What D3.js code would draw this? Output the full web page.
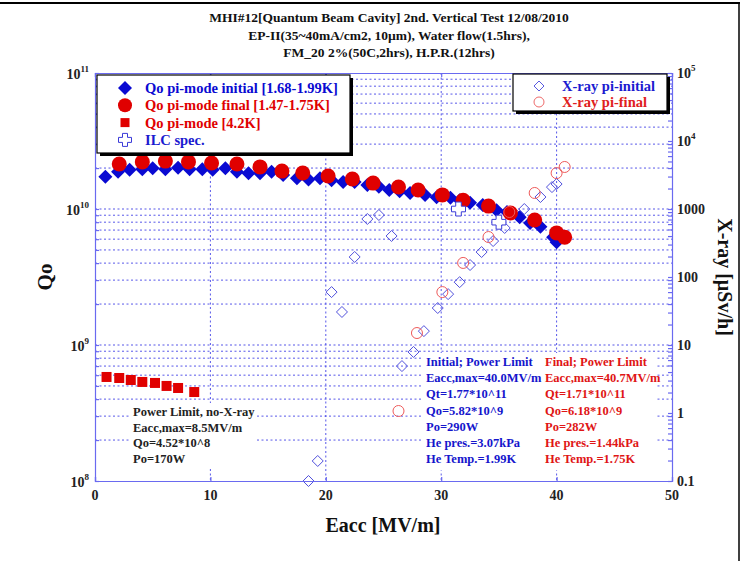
<!DOCTYPE html>
<html><head><meta charset="utf-8">
<script src="https://cdn.jsdelivr.net/npm/d3@7"></script>
<style>body{margin:0;background:#fff}svg{display:block}text{font-family:"Liberation Serif","Times New Roman",serif;font-weight:bold}</style>
</head><body>
<svg id="c" width="745" height="561"></svg>
<script>
// ---- data ----
const titleLines = ["MHI#12[Quantum Beam Cavity] 2nd. Vertical Test 12/08/2010",
  "EP-II(35~40mA/cm2, 10\u00b5m), Water flow(1.5hrs),",
  "FM_20 2%(50C,2hrs), H.P.R.(12hrs)"];
const initE = [0.9,2.0,3.0,4.1,5.0,6.1,7.2,8.2,9.3,10.2,11.3,12.3,13.3,14.3,15.3,16.3,17.5,18.5,19.5,20.5,21.5,22.5,23.6,24.6,25.5,26.4,27.3,28.6,29.6,30.8,31.6,32.5,33.6,34.8,35.7,36.8,37.7,38.6,39.7,40.0];
const initQ = [1.73e10,1.88e10,1.94e10,1.96e10,1.99e10,1.96e10,2.01e10,1.96e10,1.96e10,1.94e10,1.99e10,1.88e10,1.83e10,1.83e10,1.88e10,1.78e10,1.68e10,1.65e10,1.68e10,1.63e10,1.58e10,1.58e10,1.50e10,1.46e10,1.38e10,1.35e10,1.31e10,1.27e10,1.22e10,1.21e10,1.16e10,1.11e10,1.07e10,9.8e9,9.5e9,8.7e9,7.9e9,7.4e9,6.2e9,5.7e9];
const finE = [2.1,4.1,6.1,8.1,10.1,12.3,14.3,16.2,18.0,20.2,22.3,24.1,26.3,28.0,30.1,31.9,34.1,36.0,38.1,40.0,40.7];
const finQ = [2.14e10,2.22e10,2.25e10,2.22e10,2.18e10,2.14e10,2.04e10,1.90e10,1.84e10,1.75e10,1.66e10,1.55e10,1.45e10,1.38e10,1.27e10,1.16e10,1.05e10,9.35e9,8.3e9,6.67e9,6.2e9];
const k42E = [1.0,2.1,3.1,4.1,5.2,6.2,7.2,8.6];
const k42Q = [5.82e8,5.72e8,5.53e8,5.35e8,5.26e8,5.0e8,4.83e8,4.51e8];
const ilcE = [31.5,35.0];
const ilcQ = [1.0e10,8.0e9];
const xrInitE = [18.5,19.3,20.5,21.4,22.5,23.6,24.6,25.7,26.6,27.6,28.5,29.7,30.6,31.6,32.5,33.5,34.5,35.5,36.6,37.2,38.6,39.6,40.0];
const xrInitV = [0.1,0.197,60,30.6,197,713,816,401,4.9,7.9,16,35,56,84,150,233,338,526,789,1000,1500,2100,2330];
const xrFinE = [26.3,27.9,30.1,31.9,34.1,35.9,38.1,40.0,40.7];
const xrFinV = [1.07,15,60,161,387,903,1720,3370,4150];
const xTicks = [0,10,20,30,40,50];
const leftTicks = [[1e8,"10","8"],[1e9,"10","9"],[1e10,"10","10"],[1e11,"10","11"]];
const rightTicks = [[1e5,"10","5"],[1e4,"10","4"],[1000,"1000",""],[100,"100",""],[10,"10",""],[1,"1",""],[0.1,"0.1",""]];
const legend1 = [["diamond","Qo pi-mode initial [1.68-1.99K]","#0a0ad2"],["circle","Qo pi-mode final [1.47-1.75K]","#e00000"],["square","Qo pi-mode [4.2K]","#e00000"],["plus","ILC spec.","#1a1ad0"]];
const legend2 = [["odiamond","X-ray pi-initial","#1a1ad0"],["ocircle","X-ray pi-final","#e02020"]];
const noteK = ["Power Limit, no-X-ray","Eacc,max=8.5MV/m","Qo=4.52*10^8","Po=170W"];
const noteInit = ["Initial; Power Limit","Eacc,max=40.0MV/m","Qt=1.77*10^11","Qo=5.82*10^9","Po=290W","He pres.=3.07kPa","He Temp.=1.99K"];
const noteFin = ["Final; Power Limit","Eacc,max=40.7MV/m","Qt=1.71*10^11","Qo=6.18*10^9","Po=282W","He pres.=1.44kPa","He Temp.=1.75K"];

// ---- chart ----
const svg = d3.select("#c");
const L=95,R=672,T=73,B=481;
const x = d3.scaleLinear([0,50],[L,R]);
const yL = d3.scaleLog([1e8,1e11],[B,T]);
const yR = d3.scaleLog([0.1,1e5],[B,T]);
const BLUE="#0a0ad2", RED="#e00000", AX="#6a6af0";

// frame lines of the slide
svg.append("line").attr("x1",0).attr("x2",740).attr("y1",3).attr("y2",3).attr("stroke","#000").attr("stroke-width",2);
svg.append("line").attr("x1",739).attr("x2",739).attr("y1",2).attr("y2",561).attr("stroke","#000").attr("stroke-width",1.5);

// title
svg.append("g").selectAll("text").data(titleLines).join("text")
  .attr("x",389).attr("y",(d,i)=>22+i*17.5).attr("text-anchor","middle")
  .attr("font-size",13.5).attr("fill","#111").text(d=>d);

// grid
const minor=[];
for(let e=8;e<=10;e++) for(let m=1;m<=9;m++){const v=m*Math.pow(10,e); if(v>1e8&&v<1e11) minor.push(v);}
const g = svg.append("g");
g.selectAll("line.h").data(minor).join("line").attr("class","h")
  .attr("x1",L).attr("x2",R).attr("y1",d=>yL(d)).attr("y2",d=>yL(d))
  .attr("stroke","#3b3be6").attr("stroke-width",1).attr("stroke-dasharray","2,2.5").attr("opacity",0.85);
g.selectAll("line.v").data([10,20,30,40]).join("line").attr("class","v")
  .attr("x1",d=>x(d)).attr("x2",d=>x(d)).attr("y1",T).attr("y2",B)
  .attr("stroke","#3b3be6").attr("stroke-width",1).attr("stroke-dasharray","2,2.5").attr("opacity",0.85);

// text blocks
function block(lines,x0,y0,dy,color,w,fs){
  const bb = svg.append("g");
  bb.append("rect").attr("x",x0-3).attr("y",y0-13).attr("width",w).attr("height",dy*lines.length+4).attr("fill","#fff");
  bb.selectAll("text").data(lines).join("text").attr("x",x0).attr("y",(d,i)=>y0+i*dy)
    .attr("font-size",fs).attr("fill",color).text(d=>d);
}
block(noteK,133,416,15.5,"#222",127,12.5);
block(noteInit,426,366,16.2,"#1515cc",121,12.5);
block(noteFin,545,366,16.2,"#e01515",114,12.5);

// markers
function diamond(s){return `M0,${-s}L${s},0L0,${s}L${-s},0Z`;}
function plusPath(a,b){return `M${-b},${-a}H${b}V${-b}H${a}V${b}H${b}V${a}H${-b}V${b}H${-a}V${-b}H${-b}Z`;}
const mk = svg.append("g");
mk.selectAll("path.xi").data(xrInitE).join("path").attr("class","xi")
  .attr("transform",(d,i)=>`translate(${x(d)},${yR(xrInitV[i])})`).attr("d",diamond(5.5))
  .attr("fill","none").attr("stroke","#5050dc").attr("stroke-width",1);
mk.selectAll("path.ii").data(initE).join("path").attr("class","ii")
  .attr("transform",(d,i)=>`translate(${x(d)},${yL(initQ[i])})`).attr("d",diamond(7))
  .attr("fill",BLUE);
mk.selectAll("circle.ff").data(finE).join("circle").attr("class","ff")
  .attr("cx",d=>x(d)).attr("cy",(d,i)=>yL(finQ[i])).attr("r",7.5).attr("fill",RED);
mk.selectAll("rect.kk").data(k42E).join("rect").attr("class","kk")
  .attr("x",d=>x(d)-5).attr("y",(d,i)=>yL(k42Q[i])-5).attr("width",10).attr("height",10).attr("fill",RED);
mk.selectAll("circle.xf").data(xrFinE).join("circle").attr("class","xf")
  .attr("cx",d=>x(d)).attr("cy",(d,i)=>yR(xrFinV[i])).attr("r",5.5)
  .attr("fill","none").attr("stroke","#ee5a5a").attr("stroke-width",1);
mk.selectAll("path.ilc").data(ilcE).join("path").attr("class","ilc")
  .attr("transform",(d,i)=>`translate(${x(d)},${yL(ilcQ[i])})`).attr("d",plusPath(7,2.8))
  .attr("fill","#fff").attr("stroke","#3a3ad8").attr("stroke-width",1);

// axes
const lt=[]; for(let e=8;e<=10;e++) for(let m=1;m<=9;m++) lt.push(m*Math.pow(10,e)); lt.push(1e11);
const axL = svg.append("g").attr("transform",`translate(${L},0)`)
  .call(d3.axisLeft(yL).tickValues(lt).tickSize(-4).tickFormat(""));
const rt=[]; for(let e=-1;e<=4;e++) for(let m=1;m<=9;m++) rt.push(m*Math.pow(10,e)); rt.push(1e5);
const axR = svg.append("g").attr("transform",`translate(${R},0)`)
  .call(d3.axisRight(yR).tickValues(rt).tickSize(-4).tickFormat(""));
const axB = svg.append("g").attr("transform",`translate(0,${B})`)
  .call(d3.axisBottom(x).tickValues(xTicks).tickSize(-4).tickFormat(""));
const axT = svg.append("g").attr("transform",`translate(0,${T})`)
  .call(d3.axisTop(x).tickValues(xTicks).tickSize(-4).tickFormat(""));
[axL,axR,axB,axT].forEach(a=>{a.selectAll("path,line").attr("stroke",AX).attr("stroke-width",1.2);});

// tick labels
const tl = svg.append("g");
leftTicks.forEach(([v,b,s])=>{
  const t = tl.append("text").attr("x",89).attr("y",yL(v)+6).attr("text-anchor","end").attr("font-size",14).attr("fill","#222");
  t.append("tspan").text(b);
  t.append("tspan").attr("dy",-7).attr("font-size",9).text(s);
});
rightTicks.forEach(([v,b,s])=>{
  const t = tl.append("text").attr("x",677).attr("y",yR(v)+5).attr("font-size",14).attr("fill","#222");
  t.append("tspan").text(b);
  if(s) t.append("tspan").attr("dy",-7).attr("font-size",9).text(s);
});
tl.selectAll("text.xt").data(xTicks).join("text").attr("class","xt")
  .attr("x",d=>x(d)).attr("y",B+19).attr("text-anchor","middle").attr("font-size",14).attr("fill","#222").text(d=>d);

// axis titles
svg.append("text").attr("transform","translate(52,277) rotate(-90)").attr("text-anchor","middle")
  .attr("font-size",21).attr("fill","#111").text("Qo");
svg.append("text").attr("x",383).attr("y",532).attr("text-anchor","middle")
  .attr("font-size",20).attr("fill","#111").text("Eacc [MV/m]");
svg.append("text").attr("transform","translate(718,277) rotate(90)").attr("text-anchor","middle")
  .attr("font-size",20).attr("fill","#111").text("X-ray [\u00b5Sv/h]");

// legends
function legend(x0,y0,w,h,items,mx,tx,y1,dy,fs){
  const lg = svg.append("g");
  lg.append("rect").attr("x",x0+3).attr("y",y0+3).attr("width",w).attr("height",h).attr("fill","#000");
  lg.append("rect").attr("x",x0).attr("y",y0).attr("width",w).attr("height",h).attr("fill","#fff").attr("stroke","#000").attr("stroke-width",1.2);
  items.forEach(([k,label,c],i)=>{
    const yy = y0+y1+i*dy;
    const m = lg.append("g").attr("transform",`translate(${mx},${yy})`);
    if(k==="diamond") m.append("path").attr("d",diamond(7)).attr("fill",BLUE);
    if(k==="circle") m.append("circle").attr("r",7).attr("fill",RED);
    if(k==="square") m.append("rect").attr("x",-4.5).attr("y",-4.5).attr("width",9).attr("height",9).attr("fill",RED);
    if(k==="plus") m.append("path").attr("d",plusPath(6.5,2.5)).attr("fill","#fff").attr("stroke","#3a3ad8");
    if(k==="odiamond") m.append("path").attr("d",diamond(5)).attr("fill","none").attr("stroke","#5a5ae0");
    if(k==="ocircle") m.append("circle").attr("r",5).attr("fill","none").attr("stroke","#ee6a6a");
    lg.append("text").attr("x",tx).attr("y",yy+5).attr("font-size",fs).attr("fill",c).text(label);
  });
}
legend(97,75,253,78,legend1,125,145,13,17.3,14.5);
legend(513,74,154,37,legend2,539,562,12,16,14.5);
</script>
</body></html>
